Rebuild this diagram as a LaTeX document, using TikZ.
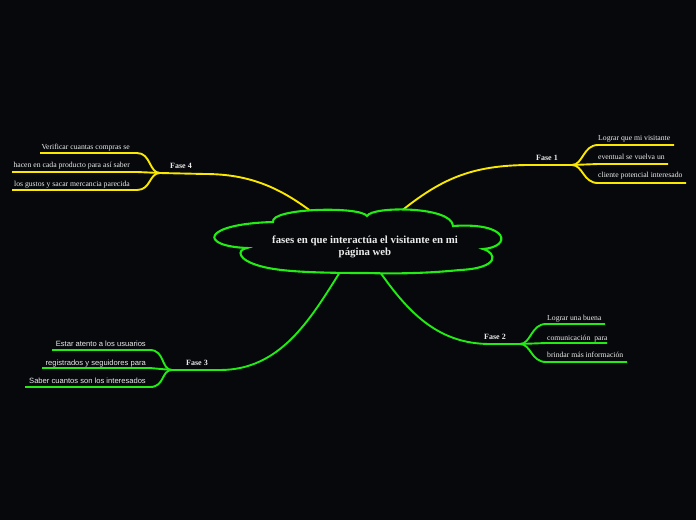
\documentclass[tikz,border=0pt]{standalone}
\usepackage{fontspec}
\setmainfont{Liberation Serif}
\setsansfont{Liberation Sans}
\definecolor{bg}{RGB}{6,8,11}
\definecolor{yel}{RGB}{250,232,0}
\definecolor{grn}{RGB}{34,236,20}
\definecolor{txt}{RGB}{236,236,236}
\begin{document}
\begin{tikzpicture}[x=1pt,y=-1pt,
  cloudline/.style={draw=grn,line width=2.1pt,fill=bg},
  yline/.style={draw=yel,line width=1.9pt},
  gline/.style={draw=grn,line width=1.9pt},
  leaf/.style={text=txt,font=\fontsize{7.7}{9}\selectfont,inner sep=0pt},
  sleaf/.style={text=txt,font=\sffamily\fontsize{7.6}{9}\selectfont,inner sep=0pt},
  phase/.style={text=txt,font=\bfseries\fontsize{8}{9}\selectfont,inner sep=0pt},
  central/.style={text=txt,font=\bfseries\fontsize{10.8}{12}\selectfont,align=center,inner sep=0pt}]
\fill[bg] (0,0) rectangle (696,520);
\useasboundingbox (0,0) rectangle (696,520);

% cloud attachment points and junctions
\coordinate (c1) at (400,212);
\coordinate (c4) at (312,212);
\coordinate (c2) at (380,272);
\coordinate (c3) at (340,272);
\coordinate (j1) at (572,165);
\coordinate (j4) at (160,173);
\coordinate (j2) at (520,344);
\coordinate (j3) at (172,370);

% main connectors (drawn under cloud)
\draw[yline] (c1) .. controls (440,180) and (470,165) .. (530,165) -- (j1);
\draw[yline] (c4) .. controls (280,188) and (250,174) .. (205,174) -- (j4);
\draw[gline] (c2) .. controls (410,315) and (440,344) .. (490,344) -- (j2);
\draw[gline] (c3) .. controls (310,320) and (280,370) .. (220,370) -- (j3);

% cloud
\path[cloudline] (247,248) .. controls (198,246) and (202,224) .. (273,222)
  .. controls (270,208) and (360,206) .. (367,216)
  .. controls (372,206) and (452,206) .. (453,226)
  .. controls (510,222) and (512,247) .. (483,249)
  .. controls (497,253) and (500,268) .. (460,270)
  .. controls (430,273) and (400,274) .. (367,273)
  .. controls (320,273) and (280,272) .. (260,266)
  .. controls (238,260) and (236,250) .. (247,248) -- cycle;
\node[central] (center) at (365,247) {fases en que interactúa el visitante en mi\\página web};

% Fase 1
\node[phase,anchor=base] (f1) at (547,160) {Fase 1};
\coordinate (e1a) at (674,145);
\coordinate (e1b) at (668,164);
\coordinate (e1c) at (686,183);
\draw[yline] (j1) .. controls (583,165) and (583,145) .. (598,145) -- (e1a);
\draw[yline] (j1) -- (598,164) -- (e1b);
\draw[yline] (j1) .. controls (583,165) and (583,183) .. (598,183) -- (e1c);
\node[leaf,anchor=base west] (t1a) at (598,140) {Lograr que mi visitante};
\node[leaf,anchor=base west] (t1b) at (598,159) {eventual se vuelva un};
\node[leaf,anchor=base west] (t1c) at (598,177.5) {cliente potencial interesado};

% Fase 4
\node[phase,anchor=base] (f4) at (181,168) {Fase 4};
\coordinate (e4a) at (40,153);
\coordinate (e4b) at (12,172);
\coordinate (e4c) at (12,190);
\draw[yline] (j4) .. controls (149,173) and (151,153) .. (137,153) -- (e4a);
\draw[yline] (j4) -- (137,172) -- (e4b);
\draw[yline] (j4) .. controls (149,173) and (151,190) .. (137,190) -- (e4c);
\node[leaf,anchor=base east] (t4a) at (130,149) {Verificar cuantas compras se};
\node[leaf,anchor=base east] (t4b) at (130,167) {hacen en cada producto para así saber};
\node[leaf,anchor=base east] (t4c) at (130,186) {los gustos y sacar mercancia parecida};

% Fase 2
\node[phase,anchor=base] (f2) at (495,339) {Fase 2};
\coordinate (e2a) at (605,324);
\coordinate (e2b) at (607,343);
\coordinate (e2c) at (627,362);
\draw[gline] (j2) .. controls (531,344) and (531,324) .. (546,324) -- (e2a);
\draw[gline] (j2) -- (546,343) -- (e2b);
\draw[gline] (j2) .. controls (531,344) and (531,362) .. (546,362) -- (e2c);
\node[leaf,anchor=base west] (t2a) at (547,320) {Lograr una buena};
\node[leaf,anchor=base west] (t2b) at (547,340) {comunicación\ \ para};
\node[leaf,anchor=base west] (t2c) at (547,357.5) {brindar más información};

% Fase 3
\node[phase,anchor=base] (f3) at (197,365) {Fase 3};
\coordinate (e3a) at (52,350);
\coordinate (e3b) at (42,368);
\coordinate (e3c) at (25,387);
\draw[gline] (j3) .. controls (161,370) and (165,350) .. (150,350) -- (e3a);
\draw[gline] (j3) -- (150,368) -- (e3b);
\draw[gline] (j3) .. controls (161,370) and (165,387) .. (150,387) -- (e3c);
\node[sleaf,anchor=base east] (t3a) at (146,346) {Estar atento a los usuarios};
\node[sleaf,anchor=base east] (t3b) at (146,365) {registrados y seguidores para};
\node[sleaf,anchor=base east] (t3c) at (146,383.5) {Saber cuantos son los interesados};
\end{tikzpicture}
\end{document}
